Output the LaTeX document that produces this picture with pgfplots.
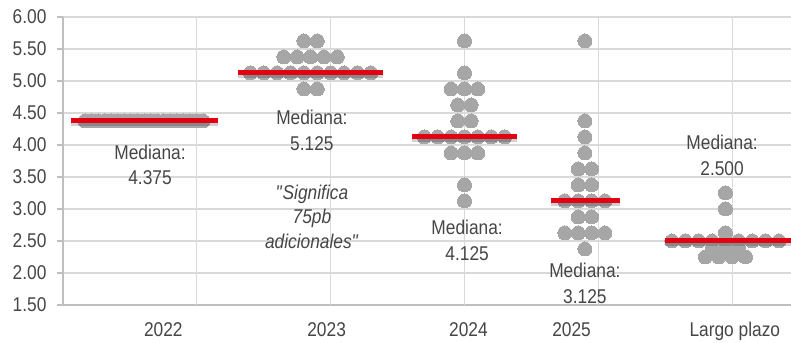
\documentclass[border=0pt]{standalone}
\usepackage{fontspec}
\setmainfont{Liberation Sans}[FakeStretch=0.87]
\usepackage{pgfplots}
\usepackage{pgfplotstable}
\pgfplotsset{compat=1.18}
\definecolor{dotgray}{RGB}{166,166,166}
\definecolor{gridgray}{RGB}{217,217,217}
\definecolor{axgray}{RGB}{191,191,191}
\definecolor{txt}{RGB}{70,70,70}
\definecolor{medred}{RGB}{226,0,18}
\pgfplotstableread{
x y
0.165 4.375
0.214 4.375
0.263 4.375
0.312 4.375
0.361 4.375
0.410 4.375
0.459 4.375
0.508 4.375
0.557 4.375
0.606 4.375
0.655 4.375
0.704 4.375
0.753 4.375
0.802 4.375
0.851 4.375
0.900 4.375
0.949 4.375
0.998 4.375
1.047 4.375
}\dotsA
\pgfplotstableread{
x y
1.80 5.625
1.90 5.625
1.65 5.375
1.75 5.375
1.85 5.375
1.95 5.375
2.05 5.375
1.40 5.125
1.50 5.125
1.60 5.125
1.70 5.125
1.80 5.125
1.90 5.125
2.00 5.125
2.10 5.125
2.20 5.125
2.30 5.125
1.80 4.875
1.90 4.875
}\dotsB
\pgfplotstableread{
x y
3.00 5.625
3.00 5.125
2.90 4.875
3.00 4.875
3.10 4.875
2.95 4.625
3.05 4.625
2.95 4.375
3.05 4.375
2.70 4.125
2.80 4.125
2.90 4.125
3.00 4.125
3.10 4.125
3.20 4.125
3.30 4.125
2.90 3.875
3.00 3.875
3.10 3.875
3.00 3.375
3.00 3.125
}\dotsC
\pgfplotstableread{
x y
3.90 5.625
3.90 4.375
3.90 4.125
3.90 3.875
3.85 3.625
3.95 3.625
3.85 3.375
3.95 3.375
3.75 3.125
3.85 3.125
3.95 3.125
4.05 3.125
3.85 2.875
3.95 2.875
3.75 2.625
3.85 2.625
3.95 2.625
4.05 2.625
3.90 2.375
}\dotsD
\pgfplotstableread{
x y
4.85 2.375
4.95 2.375
5.05 2.375
4.95 3.25
4.95 3.00
4.95 2.625
4.55 2.50
4.65 2.50
4.75 2.50
4.85 2.50
4.95 2.50
5.05 2.50
5.15 2.50
5.25 2.50
5.35 2.50
4.80 2.25
4.90 2.25
5.00 2.25
5.10 2.25
}\dotsE
\begin{document}
\begin{tikzpicture}
\begin{axis}[name=ax, scale only axis, width=728bp, height=288bp,
  xmin=0, xmax=5.44, ymin=1.5, ymax=6,
  axis x line=bottom, axis y line=left, axis line style={-, axgray, line width=1.2bp},
  ytick={1.5,2,2.5,3,3.5,4,4.5,5,5.5,6},
  ymajorgrids, grid style={gridgray, line width=1.2bp},
  xtick={0.75,1.97,3.03,3.80,5.02},
  xticklabels={2022,2023,2024,2025,Largo plazo},
  xtick align=inside, ytick align=outside,
  major tick length=6bp,
  xtick style={draw=none},
  ytick style={axgray, line width=1.2bp},
  extra x ticks={1,2,3,4,5}, extra x tick labels={},
  extra x tick style={grid=major, xtick style={draw=none}},
  ticklabel style={font=\fontsize{20}{24}\selectfont, text=txt},
  xticklabel style={anchor=base, yshift=-31bp},
  yticklabel style={xshift=-7bp},
  /pgf/number format/fixed, /pgf/number format/fixed zerofill,
  /pgf/number format/precision=2, /pgf/number format/assume math mode=true,
  clip=true, clip marker paths=true,
  dots/.style={only marks, mark=*, mark size=7bp, color=dotgray, mark options={draw=dotgray, fill=dotgray, line width=0pt}},
]
\addplot[dots] table {\dotsA};
\addplot[dots] table {\dotsB};
\addplot[dots] table {\dotsC};
\addplot[dots] table {\dotsD};
\addplot[dots] table {\dotsE};
% shadows
\addplot[black, opacity=0.18, line width=5bp, yshift=-2.5bp] coordinates {(0.06,4.375) (1.16,4.375)};
\addplot[black, opacity=0.18, line width=5bp, yshift=-2.5bp] coordinates {(1.31,5.125) (2.39,5.125)};
\addplot[black, opacity=0.18, line width=5bp, yshift=-2.5bp] coordinates {(2.61,4.125) (3.39,4.125)};
\addplot[black, opacity=0.18, line width=5bp, yshift=-2.5bp] coordinates {(3.65,3.125) (4.16,3.125)};
\addplot[black, opacity=0.18, line width=5bp, yshift=-2.5bp] coordinates {(4.50,2.5) (5.44,2.5)};
% medians
\addplot[medred, line width=5bp] coordinates {(0.06,4.375) (1.16,4.375)};
\addplot[medred, line width=5bp] coordinates {(1.31,5.125) (2.39,5.125)};
\addplot[medred, line width=5bp] coordinates {(2.61,4.125) (3.39,4.125)};
\addplot[medred, line width=5bp] coordinates {(3.65,3.125) (4.16,3.125)};
\addplot[medred, line width=5bp] coordinates {(4.50,2.5) (5.44,2.5)};
\tikzset{ann/.style={text=txt, align=center, inner sep=0pt, font=\fontsize{20}{25.5}\selectfont}}
\node[ann] at (axis cs:0.65,3.69) {Mediana:\\4.375};
\node[ann] at (axis cs:1.86,4.23) {Mediana:\\5.125};
\node[ann, font=\fontsize{20}{24.5}\selectfont\itshape] at (axis cs:1.86,2.88) {\textquotedbl Significa\\75pb\\adicionales\textquotedbl};
\node[ann] at (axis cs:3.02,2.51) {Mediana:\\4.125};
\node[ann] at (axis cs:3.90,1.84) {Mediana:\\3.125};
\node[ann] at (axis cs:4.925,3.84) {Mediana:\\2.500};
\end{axis}
\pgfresetboundingbox
\path[use as bounding box] ([xshift=-63bp,yshift=-38bp]ax.south west) rectangle ([yshift=17bp]ax.north east);
\end{tikzpicture}
\end{document}
